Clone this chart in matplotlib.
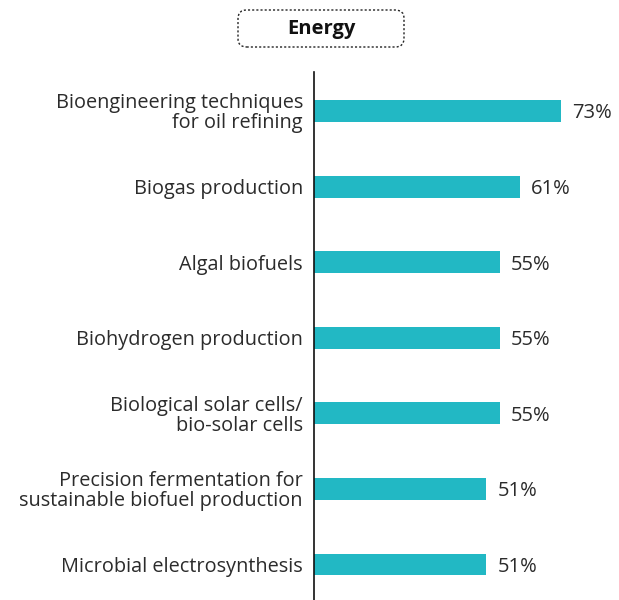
import matplotlib.pyplot as plt
from matplotlib.patches import FancyBboxPatch

# Data
labels = [
    "Bioengineering techniques\nfor oil refining",
    "Biogas production",
    "Algal biofuels",
    "Biohydrogen production",
    "Biological solar cells/\nbio-solar cells",
    "Precision fermentation for\nsustainable biofuel production",
    "Microbial electrosynthesis",
]
values = [73, 61, 55, 55, 55, 51, 51]
title = "Energy"

bar_color = "#22b8c4"
text_color = "#2b2b2b"

plt.rcParams['font.family'] = ['Open Sans', 'DejaVu Sans']

W, H = 619, 600
fig = plt.figure(figsize=(W / 100, H / 100), dpi=100)
ax = fig.add_axes([314 / W, 0.0, 1 - 314 / W, 1 - 72 / H])

pos = list(range(len(values)))
ax.barh(pos, values, height=0.29, color=bar_color)

for p, v in zip(pos, values):
    ax.text(v + 3.2, p, f"{v}%", va="center_baseline", ha="left", fontsize=14.5, color=text_color)

ax.set_xlim(0, 90.2)
ax.set_ylim(6.47, -0.516)
ax.set_yticks(pos)
ax.set_yticklabels(labels, fontsize=14.3, color=text_color, linespacing=1.0)
ax.tick_params(axis="y", length=0, pad=8)
ax.set_xticks([])
for s in ["top", "right", "bottom"]:
    ax.spines[s].set_visible(False)
ax.spines["left"].set_color("#111111")
ax.spines["left"].set_linewidth(1.2)

# dashed rounded title box
box = FancyBboxPatch((238 / W, 1 - 47 / H), 166 / W, 37 / H,
                     boxstyle="round,pad=0,rounding_size=0.014",
                     transform=fig.transFigure, fc="white", ec="#222222",
                     ls=(0, (1.5, 1.5)), lw=1.0)
fig.patches.append(box)
fig.text(321 / W, 1 - 29 / H, title, ha="center", va="center",
         fontsize=14.5, fontweight="bold", color="#111111")

fig.savefig("out.png", dpi=100)
